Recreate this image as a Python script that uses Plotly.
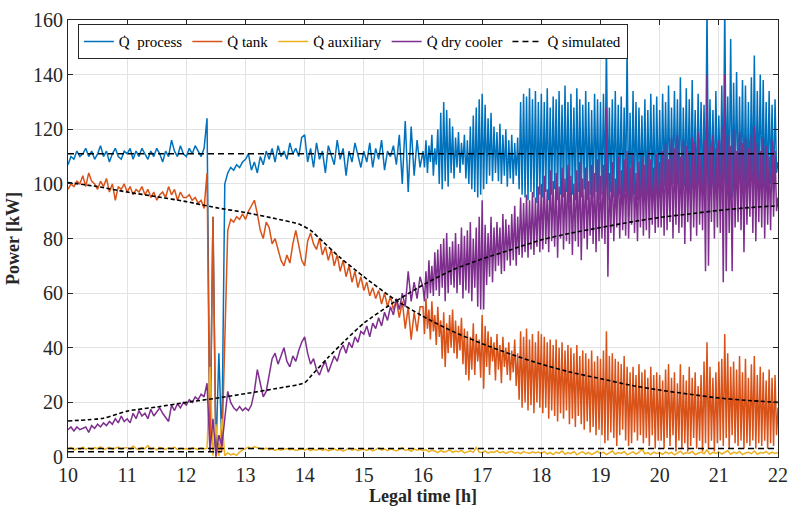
import numpy as np
import plotly.graph_objects as go

# Measured series: 10:00-16:00 sampled every 0.05 h, 16:00-22:00 every 0.025 h
coarse_start, coarse_step, coarse_n = 10.0, 0.05, 120
fine_start, fine_step = 16.0, 0.025

# ---- Process heat [kW] ----
process_coarse = (
    [107, 110, 109, 112, 110, 111, 113, 110, 112, 109, 111, 114, 110, 112, 108, 111, 113, 110, 109, 112]
    + [111, 113, 109, 112, 110, 113, 111, 109, 112, 110, 113, 111, 108, 112, 110, 116, 112, 110, 114, 111]
    + [110, 113, 111, 114, 112, 110, 113, 124, 2, 88, 1, 38, 4, 100, 104, 106, 105, 107, 106, 108]
    + [109, 111, 105, 108, 104, 110, 107, 112, 109, 113, 108, 114, 110, 112, 109, 115, 111, 113, 110, 117]
    + [118, 108, 113, 106, 115, 109, 112, 104, 114, 110, 107, 116, 109, 113, 103, 112, 108, 115, 110, 106]
    + [112, 108, 115, 106, 113, 109, 116, 105, 112, 110, 114, 107, 118, 100, 123, 97, 121, 103, 116, 106]
)
process_fine = (
    [112, 106, 116, 104, 114, 108, 118, 103, 113, 107, 120, 100, 126, 98, 130, 101, 127, 99, 124, 104]
    + [121, 102, 117, 106, 119, 104, 115, 107, 118, 102, 116, 100, 121, 98, 125, 97, 128, 95, 131, 96]
    + [133, 98, 129, 100, 124, 103, 126, 101, 121, 104, 119, 101, 122, 100, 118, 103, 120, 99, 116, 102]
    + [118, 100, 115, 103, 117, 98, 130, 96, 133, 95, 132, 94, 135, 97, 131, 95, 134, 93, 130, 96]
    + [133, 95, 130, 97, 135, 94, 128, 96, 132, 98, 131, 94, 134, 96, 129, 95, 136, 97, 130, 93]
    + [133, 96, 128, 94, 135, 97, 131, 95, 129, 98, 134, 94, 130, 96, 127, 95, 133, 97, 131, 94]
    + [130, 96, 133, 95, 152, 94, 128, 97, 131, 95, 134, 93, 129, 96, 132, 94, 128, 97, 150, 88]
    + [126, 93, 134, 96, 130, 94, 128, 97, 125, 95, 131, 93, 127, 96, 133, 95, 129, 92, 132, 96]
    + [127, 96, 133, 99, 130, 97, 136, 95, 128, 100, 134, 98, 131, 96, 139, 95, 128, 99, 135, 97]
    + [131, 96, 138, 98, 127, 95, 133, 100, 130, 97, 129, 96, 165, 94, 131, 100, 127, 97, 134, 99]
    + [125, 98, 136, 96, 165, 99, 132, 97, 153, 95, 137, 99, 141, 96, 132, 100, 138, 95, 136, 98]
    + [130, 96, 139, 97, 147, 95, 134, 99, 140, 96, 138, 98, 130, 97, 134, 100, 129, 97, 131, 104]
    + [108]
)

# ---- Tank heat [kW] ----
tank_coarse = (
    [98, 100, 99, 101, 100, 103, 99, 104, 101, 100, 98, 101, 99, 102, 97, 100, 94, 99, 98, 100]
    + [97, 99, 96, 98, 97, 99, 96, 98, 95, 97, 94, 96, 97, 95, 99, 96, 98, 94, 97, 95]
    + [95, 96, 94, 95, 93, 94, 91, 104, 2, 88, 0, 5, 2, 45, 83, 87, 86, 88, 87, 89]
    + [87, 90, 92, 94, 89, 83, 80, 86, 84, 78, 80, 76, 72, 70, 74, 71, 78, 83, 77, 72]
    + [70, 79, 82, 78, 76, 80, 74, 77, 72, 76, 70, 74, 68, 72, 66, 70, 64, 68, 62, 66]
    + [61, 64, 59, 62, 58, 61, 56, 60, 55, 59, 54, 57, 51, 57, 47, 55, 43, 53, 46, 55]
)
tank_fine = (
    [55, 45, 58, 47, 54, 43, 57, 46, 52, 41, 55, 44, 50, 36, 53, 33, 49, 38, 52, 40]
    + [54, 38, 50, 36, 48, 39, 51, 34, 47, 30, 46, 28, 44, 32, 49, 30, 45, 35, 43, 29]
    + [52, 25, 48, 33, 46, 30, 44, 35, 42, 28, 45, 32, 41, 27, 44, 33, 40, 30, 42, 28]
    + [39, 31, 43, 26, 38, 21, 46, 18, 44, 20, 47, 17, 43, 19, 45, 16, 42, 20, 46, 18]
    + [45, 16, 44, 18, 42, 14, 43, 17, 41, 15, 43, 13, 40, 16, 42, 14, 39, 17, 41, 12]
    + [40, 14, 38, 11, 41, 15, 37, 12, 39, 10, 38, 13, 36, 9, 39, 11, 35, 8, 37, 10]
    + [36, 8, 39, 5, 46, 6, 37, 9, 38, 7, 36, 4, 35, 8, 34, 10, 37, 6, 33, 4]
    + [31, 5, 33, 9, 30, 6, 34, 8, 31, 5, 32, 7, 29, 4, 33, 8, 30, 3, 31, 6]
    + [30, 6, 28, 3, 32, 7, 34, 4, 29, 8, 31, 2, 27, 6, 34, 3, 30, 5, 28, 2]
    + [33, 4, 29, 7, 31, 3, 26, 6, 30, 2, 35, 5, 42, 3, 33, 6, 29, 2, 31, 5]
    + [35, 6, 36, 4, 45, 7, 38, 3, 33, 8, 35, 5, 32, 4, 37, 6, 31, 3, 36, 5]
    + [29, 4, 34, 6, 37, 3, 30, 5, 33, 4, 31, 6, 28, 3, 32, 5, 29, 4, 30, 8]
    + [18]
)

# ---- Dry cooler heat [kW] ----
dry_coarse = (
    [10, 11, 9.5, 11, 10, 10.5, 11, 9, 11.5, 10.5, 12, 11, 12.5, 11.5, 13, 12, 14, 12.5, 15, 13]
    + [14, 12.5, 16, 14, 17, 15, 16, 14, 17.5, 15, 16.5, 18, 16, 14.5, 13, 19, 17, 19.5, 18, 20]
    + [19, 21, 20, 22, 21, 23, 22, 27, 2, 14, 0.5, 8, 4, 14, 24, 20, 18, 17, 18.5, 17]
    + [18, 17, 19, 24, 32, 27, 22, 24, 30, 36, 38, 34, 37, 40, 35, 33, 37, 35, 39, 42]
    + [44, 38, 34, 36, 32, 30, 33, 35, 31, 34, 37, 35, 39, 41, 38, 42, 40, 44, 42, 46]
    + [45, 48, 44, 49, 47, 51, 48, 53, 50, 55, 52, 58, 54, 60, 55, 68, 57, 64, 58, 66]
)
dry_fine = (
    [62, 57, 68, 58, 72, 60, 70, 59, 75, 61, 76, 59, 78, 62, 80, 57, 82, 60, 77, 63]
    + [79, 62, 82, 60, 78, 63, 84, 58, 81, 61, 83, 60, 86, 57, 80, 62, 84, 55, 88, 54]
    + [94, 54, 85, 63, 82, 66, 88, 64, 84, 68, 86, 70, 84, 67, 89, 68, 87, 72, 85, 70]
    + [89, 72, 92, 70, 88, 74, 95, 73, 93, 75, 96, 73, 94, 76, 97, 74, 95, 77, 99, 75]
    + [100, 76, 103, 78, 98, 75, 105, 79, 101, 77, 104, 73, 99, 80, 106, 76, 102, 79, 107, 78]
    + [103, 74, 100, 79, 105, 77, 108, 72, 102, 80, 106, 76, 101, 81, 107, 78, 104, 75, 109, 79]
    + [103, 80, 107, 78, 128, 66, 104, 82, 108, 79, 102, 84, 110, 80, 105, 83, 109, 81, 112, 80]
    + [106, 85, 111, 82, 104, 79, 108, 84, 110, 81, 107, 83, 112, 80, 109, 85, 106, 82, 111, 84]
    + [108, 84, 112, 81, 115, 83, 109, 86, 117, 80, 113, 85, 118, 82, 110, 84, 116, 78, 114, 86]
    + [112, 79, 117, 84, 115, 81, 119, 85, 111, 83, 116, 68, 140, 70, 114, 86, 118, 80, 113, 84]
    + [116, 82, 121, 64, 140, 68, 118, 82, 114, 68, 120, 84, 112, 86, 119, 83, 115, 75, 117, 85]
    + [113, 88, 118, 82, 121, 79, 115, 86, 112, 84, 117, 80, 114, 85, 110, 83, 116, 88, 112, 90]
    + [95]
)

# ---- Auxiliary heat [kW], every 0.05 h over 10:00-22:00 ----
aux_step = 0.05
auxiliary_kw = (
    [3, 3.5, 2.5, 3.2, 2.8, 3.6, 2.9, 3.3, 2.6, 3.4, 3, 3.8, 2.7, 3.2, 3.5, 2.8, 3.1, 3.6, 2.9, 3.3]
    + [3.4, 2.8, 4, 3.1, 2.7, 3.5, 3, 4.2, 2.9, 3.3, 2.6, 3.5, 3.1, 2.8, 3.4, 3, 3.6, 2.7, 3.2, 2.9]
    + [3.1, 2.7, 3.4, 3, 2.8, 3.3, 2.9, 3.2, 33, 0.5, 12, 0.3, 14, 0.5, 1.5, 0.8, 1.2, 0.6, 1.8, 2.5]
    + [3.2, 3.6, 3, 3.8, 3.4, 3.1, 2.8, 3.3, 2.6, 3.0, 2.4, 2.9, 2.5, 2.8, 3.1, 2.6, 3.0, 2.4, 2.7, 2.9]
    + [2.6, 3.0, 2.3, 2.8, 2.5, 3.1, 2.4, 2.9, 2.2, 2.7, 3.0, 2.4, 2.8, 2.1, 2.6, 3.2, 2.5, 2.9, 2.3, 2.7]
    + [2.8, 2.4, 3.0, 2.2, 2.7, 3.3, 2.5, 2.9, 2.3, 3.0, 2.6, 2.2, 2.8, 3.4, 2.4, 2.7, 2.1, 2.9, 2.5, 2.8]
    + [2.3, 2.7, 1.9, 2.5, 2.2, 1.6, 2.4, 1.8, 2.1, 2.6, 1.7, 2.2, 1.9, 2.4, 1.5, 2.0, 2.3, 1.7, 3.5, 1.8]
    + [1.6, 2.2, 1.4, 1.9, 1.7, 2.3, 1.5, 2.0, 1.3, 1.8, 2.1, 1.4, 1.7, 1.2, 2.0, 1.6, 1.3, 1.9, 1.5, 1.8]
    + [1.4, 2.0, 1.1, 1.7, 0.9, 1.8, 1.3, 2.2, 1.0, 1.6, 1.2, 2.0, 0.8, 1.5, 1.9, 1.1, 1.7, 0.9, 1.4, 2.1]
    + [1.2, 1.8, 0.9, 1.5, 2.2, 1.0, 1.6, 1.3, 2.0, 0.8, 1.4, 1.9, 1.1, 1.7, 3.0, 1.2, 1.6, 0.9, 1.8, 1.3]
    + [1.5, 1.0, 1.9, 1.2, 1.7, 0.8, 1.4, 2.1, 1.1, 1.6, 1.3, 2.0, 0.9, 1.5, 1.8, 1.2, 2.6, 1.0, 1.7, 1.3]
    + [1.9, 1.1, 1.6, 2.3, 1.0, 1.8, 1.3, 2.0, 0.9, 1.5, 1.7, 1.2, 2.2, 1.0, 1.6, 1.4, 2.0, 1.1, 1.8, 1.3]
    + [1.6]
)

# ---- Simulated curves (read at knots) ----
sim_process_t = [10, 22]
sim_process_kw = [111, 111]

sim_tank_t = [10, 10.5, 11, 11.5, 12, 12.5, 13, 13.5, 13.9, 14.1, 14.3, 14.6, 15, 15.5, 16,
              16.5, 17, 17.5, 18, 18.5, 19, 19.5, 20, 20.5, 21, 21.5, 22]
sim_tank_kw = [100.5, 99, 97, 95.3, 93.5, 91.3, 89.5, 87.3, 85.3, 83, 79, 73, 66, 58, 51.5,
               46, 41.5, 37.5, 34, 31, 28.7, 26.3, 24.5, 23, 21.6, 20.7, 20]

sim_dry_t = [10, 10.6, 11, 11.5, 12, 12.5, 13, 13.5, 14, 14.1, 14.4, 14.7, 15, 15.5, 16,
             16.5, 17, 17.5, 18, 18.5, 19, 19.5, 20, 20.5, 21, 21.5, 22]
sim_dry_kw = [13.2, 14.2, 16.8, 18.3, 20, 21.5, 23.2, 25, 27.2, 29.5, 36.5, 43, 49, 56.5, 63,
              68.5, 72.5, 76, 79.5, 82, 84, 86, 87.7, 89, 90.3, 91.3, 92]

sim_aux_t = [10, 22]
sim_aux_kw = [3.1, 3.1]
sim_aux2_t = [10, 12.6]
sim_aux2_kw = [1.9, 1.9]

for c in (tank_coarse, dry_coarse):
    assert len(c) == coarse_n
for f in (tank_fine, dry_fine):
    assert len(f) == len(process_fine)
assert len(process_coarse) == coarse_n

time_main = np.concatenate([
    coarse_start + coarse_step * np.arange(coarse_n),
    fine_start + fine_step * np.arange(len(process_fine)),
]).round(3)
time_aux = (coarse_start + aux_step * np.arange(len(auxiliary_kw))).round(3)

process_kw = process_coarse + process_fine
tank_kw = tank_coarse + tank_fine
dry_cooler_kw = dry_coarse + dry_fine

QD = "Q\u0307"
C_BLUE, C_ORANGE, C_YELLOW, C_PURPLE = "#0072BD", "#D95319", "#EDB120", "#7E2F8E"
FONT = "Tinos"

fig = go.Figure()
fig.add_trace(go.Scatter(x=time_main, y=process_kw, mode="lines", name=QD + "\u00a0 process",
                         line=dict(color=C_BLUE, width=1.5)))
fig.add_trace(go.Scatter(x=time_main, y=tank_kw, mode="lines", name=QD + " tank",
                         line=dict(color=C_ORANGE, width=1.5)))
fig.add_trace(go.Scatter(x=time_aux, y=auxiliary_kw, mode="lines", name=QD + " auxiliary",
                         line=dict(color=C_YELLOW, width=1.5)))
fig.add_trace(go.Scatter(x=time_main, y=dry_cooler_kw, mode="lines", name=QD + " dry cooler",
                         line=dict(color=C_PURPLE, width=1.5)))

fig.add_trace(go.Scatter(x=sim_process_t, y=sim_process_kw, mode="lines", name=QD + " simulated",
                         line=dict(color="black", width=1.5, dash="6px,4px")))
fig.add_trace(go.Scatter(x=sim_tank_t, y=sim_tank_kw, mode="lines", showlegend=False,
                         line=dict(color="black", width=1.6, dash="4px,2.5px", shape="spline", smoothing=0.6)))
fig.add_trace(go.Scatter(x=sim_dry_t, y=sim_dry_kw, mode="lines", showlegend=False,
                         line=dict(color="black", width=1.6, dash="4px,2.5px", shape="spline", smoothing=0.6)))
fig.add_trace(go.Scatter(x=sim_aux_t, y=sim_aux_kw, mode="lines", showlegend=False,
                         line=dict(color="black", width=1.5, dash="6px,4px")))
fig.add_trace(go.Scatter(x=sim_aux2_t, y=sim_aux2_kw, mode="lines", showlegend=False,
                         line=dict(color="black", width=1.5, dash="6px,4px")))

axis_common = dict(
    showgrid=True, gridcolor="#e3e3e3", gridwidth=1,
    showline=True, linecolor="#262626", linewidth=1, mirror="ticks",
    ticks="inside", ticklen=5, tickcolor="#262626", zeroline=False,
    tickfont=dict(family=FONT, size=20, color="#262626"),
)

fig.update_layout(
    width=797, height=512,
    margin=dict(l=68, r=9, t=13, b=55),
    paper_bgcolor="white", plot_bgcolor="white",
    font=dict(family=FONT, color="#262626"),
    xaxis=dict(range=[10, 22], dtick=1, tick0=10,
               title=dict(text="<b>Legal time [h]</b>", font=dict(family=FONT, size=18), standoff=4),
               **axis_common),
    yaxis=dict(range=[0, 160], dtick=20, tick0=0,
               title=dict(text="<b>Power [kW]</b>", font=dict(family=FONT, size=18), standoff=8),
               **axis_common),
    legend=dict(orientation="h", x=0.0139, y=0.99, xanchor="left", yanchor="top",
                bgcolor="white", bordercolor="#262626", borderwidth=1,
                font=dict(family=FONT, size=15, color="#000000"), itemwidth=30, tracegroupgap=0),
    showlegend=True,
)

fig.write_html("out.html")
